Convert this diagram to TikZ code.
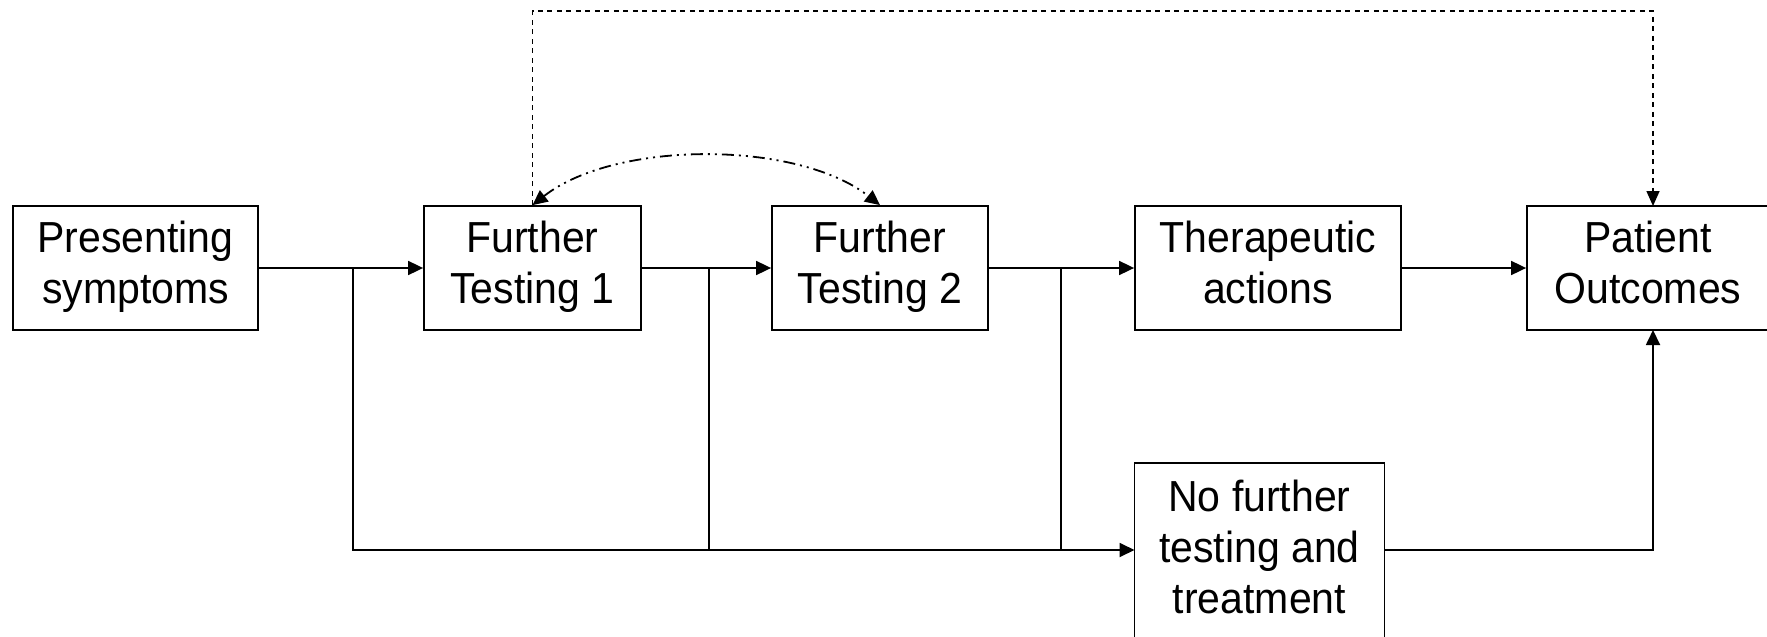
\documentclass[tikz,border=0pt]{standalone}
\usepackage{fontspec}
\setmainfont{Liberation Sans}
\usetikzlibrary{arrows.meta}
% multi-line labels, slightly tall lettering, set a little low in the box
\newcommand\boxtext[1]{\raisebox{-4pt}{\scalebox{1}[1.06]{\begin{tabular}{@{}c@{}}#1\end{tabular}}}}

\begin{document}
\begin{tikzpicture}[x=1pt,y=-1pt,
  box/.style={draw, line width=1.8pt, inner sep=0pt,
    font=\fontsize{41}{48}\selectfont, align=center},
  tip/.style={-{Triangle[length=15pt,width=14pt]}},
  flow/.style={line width=1.8pt, tip},
  link/.style={line width=1.8pt},
  feedback/.style={line width=1.5pt, dash pattern=on 5pt off 4.5pt,
    -{Triangle[length=15pt,width=13pt]}},
  linked/.style={line width=1.8pt,
    dash pattern=on 12pt off 5pt on 2pt off 5pt on 2pt off 5pt,
    {Triangle[length=15pt,width=14pt]}-{Triangle[length=15pt,width=14pt]}}
]
\useasboundingbox (0,0) rectangle (1767,637);

% boxes
\node[box, minimum width=245pt, minimum height=124pt] (ps) at (135.5,268) {\boxtext{Presenting\\symptoms}};
\node[box, minimum width=217pt, minimum height=124pt] (ft1) at (532.5,268) {\boxtext{Further\\Testing 1}};
\node[box, minimum width=216pt, minimum height=124pt] (ft2) at (880,268) {\boxtext{Further\\Testing 2}};
\node[box, minimum width=266pt, minimum height=124pt] (ta) at (1268,268) {\boxtext{Therapeutic\\actions}};
\node[box, minimum width=242pt, minimum height=124pt] (po) at (1648,268) {\boxtext{Patient\\Outcomes}};
\node[box, minimum width=250pt, minimum height=178pt] (nf) at (1259.5,552) {\boxtext{No further\\testing and\\treatment}};

% branch points and routing points
\coordinate (j1) at (353,268);
\coordinate (j2) at (709,268);
\coordinate (j3) at (1061,268);
\coordinate (nfin) at (1134.5,550);
\coordinate (nfout) at (1384.5,550);
\coordinate (poin) at (1653,330);
\coordinate (potop) at (1653,206);
\coordinate (top) at (1000,11);

% main sequence
\draw[flow] (ps.east) -- (ft1.west);
\draw[flow] (ft1.east) -- (ft2.west);
\draw[flow] (ft2.east) -- (ta.west);
\draw[flow] (ta.east) -- (po.west);

% stopping branches
\draw[flow] (j1) |- (nfin);
\draw[link] (j2) -- (j2 |- nfin);
\draw[link] (j3) -- (j3 |- nfin);
\draw[flow] (nfout) -| (poin);

% feedback from first test to outcomes
\draw[feedback] (ft1.north) -- (ft1.north |- top) -| (potop);

% link between the two tests
\draw[linked] (ft1.north) .. controls +(83,-65) and +(-83,-65) .. (ft2.north);
\end{tikzpicture}
\end{document}
